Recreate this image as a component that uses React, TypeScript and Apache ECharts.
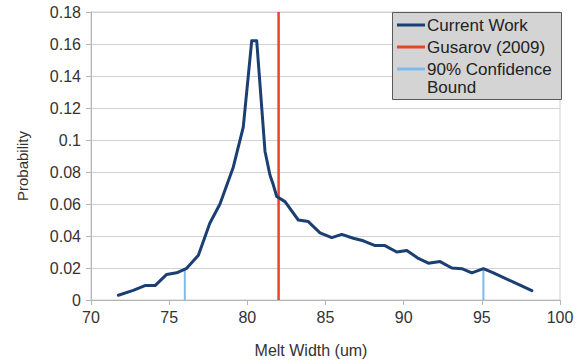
import React, { useEffect, useRef } from "react";
import * as echarts from "echarts";

const meltWidths = [
  71.75, 72.7, 73.45, 74.1, 74.84, 75.48, 76.12, 76.87, 77.6, 78.25, 79.1, 79.74,
  80.28, 80.6, 81.13, 81.45, 81.66, 81.88, 82.41, 83.26, 83.9, 84.65, 85.4, 86.04,
  86.78, 87.42, 88.17, 88.8, 89.56, 90.2, 90.94, 91.58, 92.33, 93.08, 93.72, 94.36,
  95.1, 95.74, 96.6, 97.2, 98.2,
];
const probabilities = [
  0.003, 0.006, 0.009, 0.009, 0.016, 0.017, 0.0198, 0.028, 0.048, 0.06, 0.083, 0.108,
  0.162, 0.162, 0.093, 0.078, 0.072, 0.0647, 0.0615, 0.05, 0.049, 0.042, 0.039, 0.041,
  0.0386, 0.037, 0.034, 0.034, 0.03, 0.031, 0.026, 0.023, 0.024, 0.02, 0.0196, 0.017,
  0.0196, 0.017, 0.013, 0.0104, 0.0058,
];
const gusarovWidth = 82;
const confidenceBounds = [76, 95.1];
const confidenceHeights = [0.0195, 0.0196];
const legendLabels = ["Current Work", "Gusarov (2009)", "90% Confidence", "Bound"];

const NAVY = "#1b3f73";
const RED = "#e4452b";
const CYAN = "#7fbbe8";
const FONT = "Liberation Sans, Arial, sans-serif";

export default function App() {
  const ref = useRef<HTMLDivElement>(null);
  useEffect(() => {
    document.body.style.margin = "0";
    if (!ref.current) return;
    const chart = echarts.init(ref.current, null, { renderer: "svg" });
    const curve = meltWidths.map((w, i) => [w, probabilities[i]]);
    const series: any[] = [
      {
        name: "Current Work",
        type: "line",
        data: curve,
        showSymbol: false,
        smooth: false,
        lineStyle: { color: NAVY, width: 3, join: "round", cap: "round" },
        z: 5,
      },
      {
        name: "Gusarov (2009)",
        type: "line",
        data: [
          [gusarovWidth, 0],
          [gusarovWidth, 0.18],
        ],
        showSymbol: false,
        lineStyle: { color: RED, width: 2.5 },
        z: 4,
      },
    ];
    confidenceBounds.forEach((b, i) => {
      series.push({
        name: "90% Confidence Bound",
        type: "line",
        data: [
          [b, 0],
          [b, confidenceHeights[i]],
        ],
        showSymbol: false,
        lineStyle: { color: CYAN, width: 2 },
        z: 3,
      });
    });

    const legendX = 392;
    const legendY = 12;
    const rowYs = [25, 47, 69, 87];
    const legendColors = [NAVY, RED, CYAN];

    const graphic: any[] = [
      {
        type: "rect",
        shape: { x: legendX + 0.5, y: legendY + 0.5, width: 169, height: 87 },
        style: { fill: "#d4d4d4", stroke: "#5a5a5a", lineWidth: 1 },
        z: 10,
      },
      ...legendColors.map((c, i) => ({
        type: "line",
        shape: { x1: 397, y1: rowYs[i], x2: 425, y2: rowYs[i] },
        style: { stroke: c, lineWidth: 3 },
        z: 11,
      })),
      ...legendLabels.map((t, i) => ({
        type: "text",
        x: 427,
        y: rowYs[i],
        style: {
          text: t,
          fill: "#222",
          font: `17px ${FONT}`,
          textVerticalAlign: "middle",
          verticalAlign: "middle",
        },
        z: 11,
      })),
      {
        type: "text",
        x: 22,
        y: 166,
        rotation: Math.PI / 2,
        style: {
          text: "Probability",
          fill: "#333",
          font: `15px ${FONT}`,
          align: "center",
          verticalAlign: "middle",
          textAlign: "center",
          textVerticalAlign: "middle",
        },
      },
      {
        type: "text",
        x: 311,
        y: 350,
        style: {
          text: "Melt Width (um)",
          fill: "#333",
          font: `16px ${FONT}`,
          align: "center",
          verticalAlign: "middle",
          textAlign: "center",
          textVerticalAlign: "middle",
        },
      },
    ];

    chart.setOption({
      animation: false,
      backgroundColor: "#ffffff",
      grid: {
        left: 91,
        right: 22,
        top: 12,
        bottom: 64,
        show: true,
        borderColor: "#cfcfcf",
        borderWidth: 1,
      },
      xAxis: {
        type: "value",
        min: 70,
        max: 100,
        interval: 5,
        axisLine: { show: true, lineStyle: { color: "#b5b5b5", width: 1 } },
        axisTick: { show: true, length: 5, lineStyle: { color: "#b5b5b5" } },
        axisLabel: { color: "#333", fontFamily: FONT, fontSize: 16, margin: 9 },
        splitLine: { show: false },
      },
      yAxis: {
        type: "value",
        min: 0,
        max: 0.18,
        interval: 0.02,
        axisLine: { show: true, lineStyle: { color: "#b5b5b5", width: 1 } },
        axisTick: { show: true, length: 5, lineStyle: { color: "#b5b5b5" } },
        axisLabel: {
          color: "#333",
          fontFamily: FONT,
          fontSize: 16,
          margin: 10,
          formatter: (v: number) => String(parseFloat(v.toFixed(2))),
        },
        splitLine: { show: true, lineStyle: { color: "#d3d3d3", width: 1 } },
      },
      series,
      graphic,
    });
    return () => chart.dispose();
  }, []);
  return <div ref={ref} style={{ width: 582, height: 364 }} />;
}
